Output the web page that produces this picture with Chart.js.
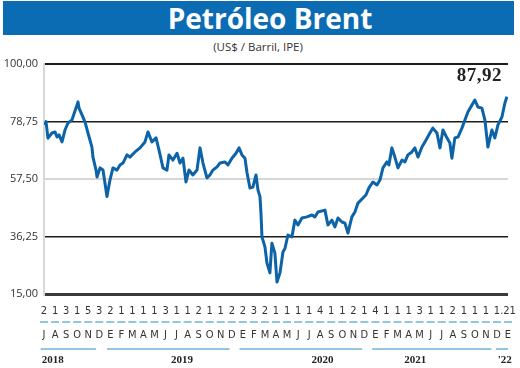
<!DOCTYPE html>
<html>
<head>
<meta charset="utf-8">
<script src="https://cdn.jsdelivr.net/npm/chart.js@4.4.1/dist/chart.umd.min.js"></script>
<style>
  body { margin: 0; width: 520px; height: 368px; background: #fff; position: relative; overflow: hidden; }
  #bar { position: absolute; left: 3px; top: 1px; width: 511px; height: 34px; background: #0b6cb4; }
  #title { position: absolute; left: 0; width: 540px; top: 1px; color: #fff; font: bold 28px "Open Sans", sans-serif;
           text-align: center; line-height: 34px; }
  #sub { position: absolute; left: 0; width: 516px; top: 39px; text-align: center;
         font: 11.5px "Open Sans", sans-serif; color: #333; }
  #last { position: absolute; right: 18px; top: 64px; font: bold 19px "Liberation Serif", serif; color: #222; letter-spacing: 0.5px; }
  canvas { position: absolute; left: 0; top: 0; }
</style>
</head>
<body>
<div id="bar"></div>
<div id="title">Petróleo Brent</div>
<div id="sub">(US$ / Barril, IPE)</div>
<canvas id="c" width="520" height="368"></canvas>
<div id="last">87,92</div>
<script>
'use strict';

// positions are in months counted from July 2018
var pos2018 = [0.05, 0.18, 0.36, 0.72, 1.0, 1.18, 1.36, 1.63, 1.9, 2.17, 2.53, 2.62, 3.08, 3.17, 3.44, 3.71, 3.98, 4.34, 4.43, 4.71, 4.8, 5.07, 5.34, 5.7, 5.97];
var brent2018 = [77.5, 78.7, 72.6, 74.5, 74.9, 73.0, 73.8, 71.2, 75.6, 78.2, 79.3, 80.4, 86.0, 83.7, 81.2, 78.6, 74.5, 69.3, 65.6, 60.8, 58.2, 61.6, 60.8, 51.0, 57.1];

var pos2019 = [6.24, 6.61, 6.88, 7.15, 7.51, 7.78, 8.24, 8.69, 9.14, 9.41, 9.77, 10.14, 10.41, 10.77, 11.13, 11.31, 11.67, 12.04, 12.31, 12.58, 12.85, 13.12, 13.48, 13.85, 14.12, 14.39, 14.75, 15.02, 15.29, 15.66, 15.93, 16.38, 16.65, 17.01, 17.38, 17.65, 17.92];
var brent2019 = [61.6, 60.8, 62.7, 63.4, 66.4, 65.6, 67.5, 69.0, 71.2, 74.9, 71.2, 72.7, 68.2, 61.6, 60.8, 66.4, 64.5, 67.0, 63.4, 65.2, 56.4, 60.8, 59.0, 60.8, 69.0, 63.4, 57.9, 59.0, 60.8, 62.0, 63.4, 63.8, 62.7, 65.2, 67.0, 69.0, 66.4];

var pos2020 = [18.19, 18.37, 18.64, 18.91, 19.19, 19.37, 19.55, 19.64, 19.73, 20.0, 20.18, 20.45, 20.63, 20.9, 21.09, 21.36, 21.63, 21.81, 22.08, 22.44, 22.71, 22.99, 23.35, 23.8, 24.25, 24.52, 24.8, 25.43, 25.7, 26.06, 26.33, 26.61, 26.97, 27.24, 27.51, 27.87, 28.14, 28.42, 28.87, 29.14, 29.41, 29.77];
var brent2020 = [65.2, 60.0, 54.2, 54.5, 59.0, 53.4, 51.0, 44.9, 36.1, 32.4, 26.5, 22.8, 33.8, 30.1, 19.4, 22.8, 30.5, 31.8, 36.8, 36.1, 42.3, 40.5, 43.1, 43.5, 44.2, 43.5, 45.3, 46.0, 40.5, 42.3, 39.8, 43.1, 41.6, 41.2, 37.5, 43.5, 45.3, 48.6, 50.5, 51.6, 54.2, 56.4];

var pos2021 = [30.14, 30.41, 30.68, 31.04, 31.22, 31.49, 31.76, 32.04, 32.4, 32.67, 32.94, 33.3, 33.57, 33.85, 34.21, 34.48, 34.93, 35.2, 35.57, 35.84, 36.11, 36.47, 36.74, 36.92, 37.19, 37.47, 37.83, 38.1, 38.37, 38.73, 39.0, 39.28, 39.64, 39.91, 40.18, 40.54, 40.81, 41.09, 41.45, 41.72, 41.9];
var brent2021 = [55.3, 57.1, 61.6, 63.8, 62.7, 69.0, 65.6, 61.6, 64.5, 63.8, 66.4, 67.5, 69.0, 65.6, 69.3, 71.2, 74.5, 76.3, 74.5, 69.0, 75.6, 72.7, 70.8, 65.2, 72.7, 73.0, 76.3, 79.3, 82.3, 84.8, 86.7, 84.1, 83.7, 79.3, 69.3, 75.6, 72.7, 77.5, 80.4, 85.6, 87.92];

var yTicks = [15, 36.25, 57.5, 78.75, 100];
var yGridColors = ['#3a3a3a', '#1c1c1c', '#d6d6d6', '#1c1c1c', '#1c1c1c'];
var yGridWidths = [3, 1.5, 2, 1.5, 2];

var monthTicks = [];
for (var i = 0; i <= 42; i++) monthTicks.push(i);
var dayDigits = ['2','1','3','1','5','3',
  '2','1','1','1','1','3','1','1','2','1','1','2',
  '2','3','2','1','1','1','1','4','1','1','2','1',
  '4','1','1','1','3','1','1','2','1','1','1','1',
  '.21'];
var monthLetters = ['J','A','S','O','N','D',
  'E','F','M','A','M','J','J','A','S','O','N','D',
  'E','F','M','A','M','J','J','A','S','O','N','D',
  'E','F','M','A','M','J','J','A','S','O','N','D',
  'E'];

var yearNames = ['2018', '2019', '2020', '2021', "'22"];
var yearLabelAt = [-0.2, 12.5, 25.2, 33.6, 41.7];
var yearLineFrom = [-0.3, 5.7, 17.7, 29.7, 40.9];
var yearLineTo = [4.7, 16.8, 28.8, 40.5, 42];

var points = [];
[[pos2018, brent2018], [pos2019, brent2019], [pos2020, brent2020], [pos2021, brent2021]].forEach(function(pair) {
  pair[0].forEach(function(p, k) { points.push({x: p, y: pair[1][k]}); });
});

var bottomMarks = {
  id: 'bottomMarks',
  afterDraw: function(chart) {
    var ctx = chart.ctx, xs = chart.scales.x;
    ctx.save();
    ctx.strokeStyle = '#92c6e2';
    ctx.lineWidth = 2;
    monthTicks.forEach(function(m) {
      var px = xs.getPixelForValue(m);
      ctx.beginPath();
      ctx.moveTo(px - 4, 322);
      ctx.lineTo(px + 4, 322);
      ctx.stroke();
    });
    yearLineFrom.forEach(function(f, k) {
      ctx.beginPath();
      ctx.moveTo(xs.getPixelForValue(f), 349);
      ctx.lineTo(xs.getPixelForValue(yearLineTo[k]), 349);
      ctx.stroke();
    });
    ctx.fillStyle = '#222';
    ctx.font = 'bold 11px "Liberation Serif", serif';
    ctx.textBaseline = 'middle';
    yearNames.forEach(function(t, k) {
      ctx.textAlign = k === 0 ? 'left' : 'center';
      ctx.fillText(t, xs.getPixelForValue(yearLabelAt[k]), 360);
    });
    ctx.restore();
  }
};

new Chart(document.getElementById('c'), {
  type: 'line',
  data: {
    datasets: [{
      data: points,
      borderColor: '#0d63a8',
      borderWidth: 3,
      borderJoinStyle: 'round',
      pointRadius: 0,
      tension: 0,
      fill: false
    }]
  },
  options: {
    responsive: false,
    animation: false,
    devicePixelRatio: 1,
    layout: {padding: {top: 64, right: 12, left: 0, bottom: 0}},
    plugins: {legend: {display: false}, tooltip: {enabled: false}},
    scales: {
      x: {
        type: 'linear',
        min: 0,
        max: 42,
        afterBuildTicks: function(scale) { scale.ticks = monthTicks.map(function(v) { return {value: v}; }); },
        afterFit: function(scale) { scale.height = 74; },
        grid: {display: false},
        border: {display: false},
        ticks: {
          autoSkip: false,
          maxRotation: 0,
          padding: -2,
          color: '#333',
          font: {family: '"Liberation Sans Narrow", "DejaVu Sans Condensed", sans-serif', size: 11, lineHeight: 2.1},
          callback: function(v, idx) { return [dayDigits[idx], monthLetters[idx]]; }
        }
      },
      y: {
        min: 15,
        max: 100,
        afterBuildTicks: function(scale) { scale.ticks = yTicks.map(function(v) { return {value: v}; }); },
        afterFit: function(scale) { scale.width = 44; },
        grid: {
          drawTicks: false,
          color: function(c) { return yGridColors[c.index]; },
          lineWidth: function(c) { return yGridWidths[c.index]; }
        },
        border: {color: '#d8d8d8', width: 2},
        ticks: {
          padding: 6,
          color: '#333',
          font: {family: '"Open Sans", sans-serif', size: 11},
          callback: function(v) { return v.toFixed(2).replace('.', ','); }
        }
      }
    }
  },
  plugins: [bottomMarks]
});
</script>
</body>
</html>
